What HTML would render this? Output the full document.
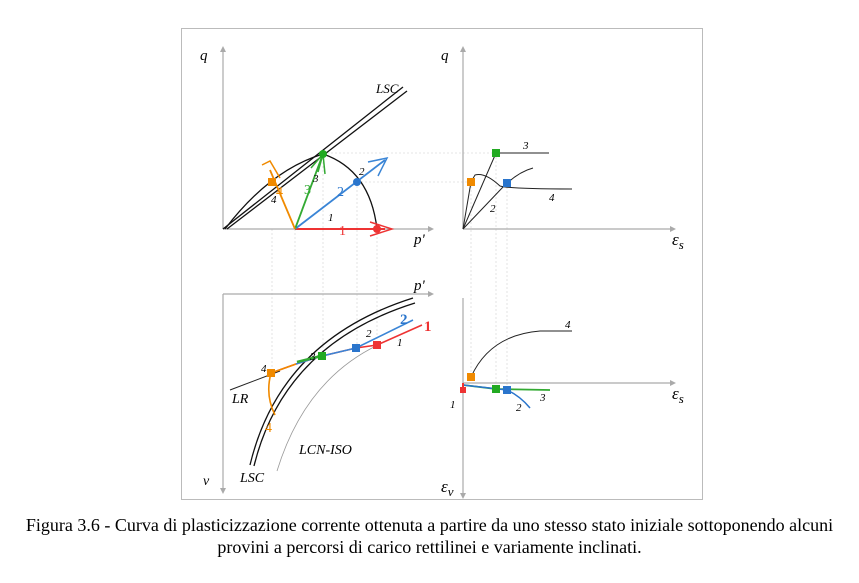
<!DOCTYPE html>
<html><head><style>
body{margin:0;background:#fff;width:859px;height:583px;overflow:hidden}
.cap{position:absolute;left:0;width:859px;text-align:center;font-family:"Liberation Serif",serif;font-size:18px;color:#000;line-height:22px;white-space:nowrap}
</style></head><body>
<svg width="859" height="583" style="position:absolute;left:0;top:0" font-family="Liberation Serif" font-style="italic">
<rect x="181.5" y="28.5" width="521" height="471" fill="none" stroke="#bbb"/>
<g stroke="#ddd" stroke-dasharray="2,2" stroke-width="0.8">
<line x1="272" y1="229" x2="272" y2="373"/><line x1="295" y1="229" x2="295" y2="356"/>
<line x1="323" y1="154" x2="323" y2="356"/><line x1="357" y1="182" x2="357" y2="348"/><line x1="377" y1="229" x2="377" y2="345"/>
<line x1="323" y1="153" x2="496" y2="153"/><line x1="357" y1="182" x2="471" y2="182"/>
<line x1="471" y1="182" x2="471" y2="377"/><line x1="496" y1="153" x2="496" y2="389"/><line x1="507" y1="183" x2="507" y2="390"/>
</g>
<g stroke="#aaa" stroke-width="1.2" fill="none">
<line x1="223" y1="229" x2="223" y2="50"/><line x1="223" y1="229" x2="430" y2="229"/>
<line x1="463" y1="229" x2="463" y2="50"/><line x1="463" y1="229" x2="672" y2="229"/>
<line x1="223" y1="294" x2="430" y2="294"/><line x1="223" y1="294" x2="223" y2="490"/>
<line x1="463" y1="383" x2="672" y2="383"/><line x1="463" y1="298" x2="463" y2="495"/>
</g>
<g fill="#aaa"><path d="M220,52 L226,52 L223,46Z"/><path d="M428,226 L428,232 L434,229Z"/><path d="M460,52 L466,52 L463,46Z"/><path d="M670,226 L670,232 L676,229Z"/><path d="M428,291 L428,297 L434,294Z"/><path d="M220,488 L226,488 L223,494Z"/><path d="M670,380 L670,386 L676,383Z"/><path d="M460,493 L466,493 L463,499Z"/></g>
<!-- top-left -->
<g stroke="#111" fill="none" stroke-width="1.3">
<line x1="223" y1="229" x2="403" y2="87"/><line x1="227" y1="229" x2="407" y2="91"/>
<path d="M225,229 Q270,170 323,154 Q370,170 377,229"/>
</g>
<line x1="295" y1="229" x2="385" y2="229" stroke="#e33" stroke-width="2"/>
<path d="M370,222 L392,229 L370,236" stroke="#e33" fill="none" stroke-width="1.5"/>
<circle cx="377" cy="229" r="4" fill="#e33"/>
<line x1="295" y1="229" x2="385" y2="160" stroke="#3a85d6" stroke-width="1.8"/>
<path d="M368,162 L387,158 L378,176" stroke="#3a85d6" fill="none" stroke-width="1.5"/>
<circle cx="357" cy="182" r="4" fill="#2a75cc"/>
<line x1="295" y1="229" x2="323" y2="154" stroke="#3a3" stroke-width="1.8"/>
<path d="M311,168 L323,154 L325,174 M323,154 L318,172" stroke="#3a3" fill="none" stroke-width="1.5"/>
<circle cx="323" cy="154" r="4" fill="#2a2"/>
<line x1="295" y1="229" x2="270" y2="170" stroke="#f08a00" stroke-width="1.8"/>
<path d="M262,165 L270,161 L280,178" stroke="#f08a00" fill="none" stroke-width="1.5"/>
<rect x="268" y="178" width="8" height="8" fill="#f08a00"/>
<text x="376" y="93" font-size="13">LSC</text>
<text x="200" y="60" font-size="15">q</text>
<text x="414" y="244" font-size="15">p'</text>
<text x="328" y="221" font-size="11">1</text><text x="339" y="235" font-size="14" fill="#e33" font-style="normal">1</text>
<text x="359" y="175" font-size="11">2</text><text x="337" y="196" font-size="14" fill="#2a75cc" font-style="normal">2</text>
<text x="313" y="182" font-size="11">3</text><text x="304" y="194" font-size="14" fill="#3a3" font-style="normal">3</text>
<text x="271" y="203" font-size="11">4</text><text x="276" y="196" font-size="14" fill="#f08a00" font-style="normal">4</text>
<!-- top-right -->
<g stroke="#222" fill="none" stroke-width="1">
<line x1="463" y1="229" x2="496" y2="153"/><line x1="496" y1="153" x2="549" y2="153"/>
<line x1="463" y1="229" x2="471" y2="182"/>
<path d="M471,182 L475,175 Q485,172 500,186 Q510,189 572,189"/>
<path d="M463,229 L503,187 Q518,172 533,168"/>
</g>
<rect x="492" y="149" width="8" height="8" fill="#2a2"/><rect x="467" y="178" width="8" height="8" fill="#f08a00"/><rect x="503" y="179" width="8" height="8" fill="#2a75cc"/>
<text x="441" y="60" font-size="15">q</text>
<text x="523" y="149" font-size="11">3</text><text x="549" y="201" font-size="11">4</text><text x="490" y="212" font-size="11">2</text>
<text x="672" y="245" font-size="17">ε<tspan font-size="13" dy="4">s</tspan></text>
<!-- bottom-left -->
<g stroke="#111" fill="none" stroke-width="1.3">
<path d="M250,465 Q280,340 413,298"/><path d="M254,466 Q284,344 415,303"/>
</g>
<path d="M277,471 Q305,380 378,345" stroke="#999" fill="none" stroke-width="0.8"/>
<line x1="230" y1="390" x2="280" y2="371" stroke="#222" stroke-width="1"/>
<path d="M271,373 L296,364 L322,356 L356,348 L377,345 L422,325" stroke="#e33" fill="none" stroke-width="1.6"/>
<path d="M296,364 L322,356 L356,348 L413,320" stroke="#3a85d6" fill="none" stroke-width="1.6"/>
<path d="M297,362 L325,355" stroke="#3a3" stroke-width="2.5"/>
<path d="M271,373 Q265,395 275,415" stroke="#f08a00" fill="none" stroke-width="1.6"/>
<path d="M271,373 L296,364" stroke="#f08a00" stroke-width="1.6"/>
<rect x="267" y="369" width="8" height="8" fill="#f08a00"/><rect x="318" y="352" width="8" height="8" fill="#2a2"/><rect x="352" y="344" width="8" height="8" fill="#2a75cc"/><rect x="373" y="341" width="8" height="8" fill="#e33"/>
<text x="414" y="290" font-size="15">p'</text><text x="203" y="485" font-size="14">v</text>
<text x="232" y="403" font-size="14">LR</text><text x="240" y="482" font-size="14">LSC</text><text x="299" y="454" font-size="14">LCN-ISO</text>
<text x="261" y="372" font-size="11">4</text><text x="310" y="360" font-size="11">3</text><text x="366" y="337" font-size="11">2</text><text x="397" y="346" font-size="11">1</text>
<text x="400" y="324" font-size="15" fill="#2a75cc" font-style="normal" font-weight="bold">2</text><text x="424" y="331" font-size="15" fill="#e33" font-style="normal" font-weight="bold">1</text>
<text x="265" y="432" font-size="14" fill="#f08a00" font-style="normal">4</text>
<!-- bottom-right -->
<path d="M471,377 Q490,335 540,331 L572,331" stroke="#222" fill="none" stroke-width="1"/>
<path d="M463,385 L496,389 L550,390" stroke="#3a3" fill="none" stroke-width="1.8"/>
<path d="M463,385 L507,390 Q520,396 530,408" stroke="#2a75cc" fill="none" stroke-width="1.5"/>
<line x1="463" y1="383" x2="463" y2="391" stroke="#e33" stroke-width="2"/>
<rect x="467" y="373" width="8" height="8" fill="#f08a00"/><rect x="492" y="385" width="8" height="8" fill="#2a2"/><rect x="503" y="386" width="8" height="8" fill="#2a75cc"/><rect x="460" y="387" width="6" height="6" fill="#e33"/>
<text x="565" y="328" font-size="11">4</text><text x="540" y="401" font-size="11">3</text><text x="516" y="411" font-size="11">2</text><text x="450" y="408" font-size="11">1</text>
<text x="672" y="399" font-size="17">ε<tspan font-size="13" dy="4">s</tspan></text>
<text x="441" y="492" font-size="17">ε<tspan font-size="13" dy="4">v</tspan></text>
</svg>
<div class="cap" style="top:514px">Figura 3.6 - Curva di plasticizzazione corrente ottenuta a partire da uno stesso stato iniziale sottoponendo alcuni<br>provini a percorsi di carico rettilinei e variamente inclinati.</div>
</body></html>
